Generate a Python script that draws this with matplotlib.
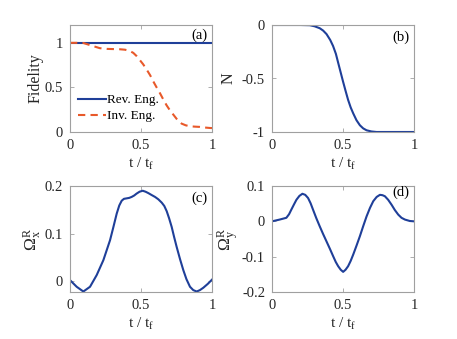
import matplotlib
matplotlib.use('Agg')
import matplotlib.pyplot as plt
from matplotlib.ticker import FormatStrFormatter

plt.rcParams['font.family'] = 'Liberation Serif'
plt.rcParams['mathtext.fontset'] = 'custom'
plt.rcParams['mathtext.rm'] = 'Liberation Serif'
plt.rcParams['mathtext.it'] = 'Liberation Serif'
plt.rcParams['axes.unicode_minus'] = False
plt.rcParams['font.size'] = 10

blue = '#1f3f99'
orange = '#e8592a'
frame = '#a0a0a0'

# (a) fidelity
t_rev = [0, 1]
f_rev = [1, 1]
t_inv = [0, 0.05, 0.094, 0.15, 0.21, 0.26, 0.305, 0.35, 0.387, 0.42, 0.446, 0.47, 0.49, 0.515,
         0.54, 0.565, 0.587, 0.61, 0.634, 0.657, 0.68, 0.705, 0.73, 0.757, 0.786, 0.815, 0.845,
         0.88, 0.915, 0.95, 0.986, 1.0]
f_inv = [1, 1, 0.998, 0.97, 0.94, 0.932, 0.93, 0.928, 0.923, 0.91, 0.887, 0.85, 0.81, 0.76,
         0.70, 0.635, 0.566, 0.50, 0.434, 0.365, 0.30, 0.24, 0.19, 0.135, 0.094, 0.075, 0.064,
         0.06, 0.057, 0.05, 0.045, 0.044]

# (b) N
t_n = [0, 0.1, 0.2, 0.266, 0.3, 0.336, 0.36, 0.384, 0.41, 0.43, 0.45, 0.466, 0.483, 0.5,
       0.518, 0.536, 0.554, 0.572, 0.595, 0.619, 0.642, 0.666, 0.7, 0.736, 0.8, 0.9, 1.0]
n_vals = [0, 0, 0, -0.002, -0.012, -0.03, -0.052, -0.085, -0.14, -0.196, -0.27, -0.353, -0.44,
          -0.527, -0.615, -0.70, -0.77, -0.826, -0.89, -0.937, -0.966, -0.984, -0.995, -1.0,
          -1.0, -1.0, -1.0]

# (c) Omega_x^R
t_c = [0, 0.047, 0.094, 0.141, 0.188, 0.235, 0.282, 0.305, 0.329, 0.347, 0.364, 0.38, 0.399,
       0.417, 0.434, 0.452, 0.469, 0.49, 0.512, 0.532, 0.552, 0.575, 0.599, 0.622, 0.646, 0.664,
       0.681, 0.698, 0.716, 0.733, 0.751, 0.775, 0.798, 0.82, 0.845, 0.868, 0.892, 0.915, 0.939,
       0.97, 1.0]
c_vals = [0.002, -0.012, -0.022, -0.012, 0.0126, 0.044, 0.086, 0.113, 0.142, 0.159, 0.169,
          0.173, 0.174, 0.175, 0.177, 0.18, 0.184, 0.188, 0.19, 0.188, 0.185, 0.181, 0.177,
          0.172, 0.165, 0.158, 0.147, 0.132, 0.114, 0.093, 0.072, 0.046, 0.023, 0.004, -0.012,
          -0.019, -0.022, -0.019, -0.014, -0.006, 0.003]

# (d) Omega_y^R
t_d = [0, 0.054, 0.101, 0.12, 0.136, 0.155, 0.172, 0.193, 0.214, 0.234, 0.254, 0.272, 0.289,
       0.312, 0.336, 0.36, 0.384, 0.408, 0.431, 0.449, 0.466, 0.484, 0.501, 0.518, 0.536, 0.554,
       0.572, 0.595, 0.619, 0.642, 0.666, 0.69, 0.713, 0.737, 0.76, 0.778, 0.795, 0.818, 0.842,
       0.865, 0.889, 0.912, 0.936, 0.97, 1.0]
d_vals = [0, 0.005, 0.01, 0.02, 0.033, 0.048, 0.061, 0.072, 0.078, 0.075, 0.066, 0.051, 0.033,
          0.009, -0.014, -0.036, -0.057, -0.078, -0.099, -0.115, -0.127, -0.137, -0.143, -0.137,
          -0.127, -0.112, -0.094, -0.069, -0.042, -0.014, 0.014, 0.038, 0.057, 0.069, 0.075,
          0.074, 0.071, 0.061, 0.047, 0.032, 0.019, 0.01, 0.005, 0.001, 0]

fig = plt.figure(figsize=(4.57, 3.39), dpi=100)
W, H = 457, 339
txt = '#262626'


def make_ax(x0, x1, y0, y1):
    ax = fig.add_axes([x0 / W, 1 - y1 / H, (x1 - x0) / W, (y1 - y0) / H])
    for s in ax.spines.values():
        s.set_color(frame)
        s.set_linewidth(0.8)
    ax.tick_params(direction='in', length=3, width=0.6, color=frame, top=True, right=True,
                   labelsize=10.5, labelcolor=txt, pad=5)
    ax.set_xlim(0, 1)
    ax.set_xticks([0, 0.5, 1])
    ax.xaxis.set_major_formatter(FormatStrFormatter('%g'))
    ax.yaxis.set_major_formatter(FormatStrFormatter('%g'))
    ax.set_xlabel('t / t$_\\mathrm{f}$', fontsize=11, color=txt, labelpad=3)
    return ax


ax1 = make_ax(70, 212, 25, 132)
ax1.plot(t_rev, f_rev, color=blue, lw=1.5, label='Rev. Eng.')
ax1.plot(t_inv, f_inv, color=orange, lw=1.5, ls=(0, (3.5, 2.5)), label='Inv. Eng.')
ax1.set_ylim(0, 1.2)
ax1.set_yticks([0, 0.5, 1])
ax1.set_ylabel('Fidelity', fontsize=11.5, color=txt, labelpad=1)
ax1.legend(loc='lower left', frameon=False, fontsize=9.5, handlelength=2.1, handletextpad=0.1,
           labelspacing=0.3, borderaxespad=0.0, borderpad=0.4, bbox_to_anchor=(0.02, 0.04))
ax1.text(0.97, 0.97, '(a)', transform=ax1.transAxes, ha='right', va='top', fontsize=10.5)

ax2 = make_ax(272, 414, 25, 132)
ax2.plot(t_n, n_vals, color=blue, lw=1.5)
ax2.set_ylim(-1, 0)
ax2.set_yticks([-1, -0.5, 0])
ax2.set_ylabel('N', fontsize=11.5, color=txt, labelpad=4)
ax2.text(0.97, 0.95, '(b)', transform=ax2.transAxes, ha='right', va='top', fontsize=10.5)

ax3 = make_ax(70, 212, 186, 292)
ax3.plot(t_c, c_vals, color=blue, lw=1.5)
ax3.set_ylim(-0.023, 0.2)
ax3.set_yticks([0, 0.1, 0.2])
ax3.set_ylabel('$\\mathrm{\\Omega}^{\\mathrm{R}}_{\\mathrm{x}}$', fontsize=12.5, color=txt,
               labelpad=1)
ax3.text(0.97, 0.95, '(c)', transform=ax3.transAxes, ha='right', va='top', fontsize=10.5)

ax4 = make_ax(272, 414, 186, 292)
ax4.plot(t_d, d_vals, color=blue, lw=1.5)
ax4.set_ylim(-0.2, 0.1)
ax4.set_yticks([-0.2, -0.1, 0, 0.1])
ax4.set_ylabel('$\\mathrm{\\Omega}^{\\mathrm{R}}_{\\mathrm{y}}$', fontsize=12.5, color=txt,
               labelpad=1)
ax4.text(0.97, 1.0, '(d)', transform=ax4.transAxes, ha='right', va='top', fontsize=10.5)

fig.savefig('out.png', dpi=100)
